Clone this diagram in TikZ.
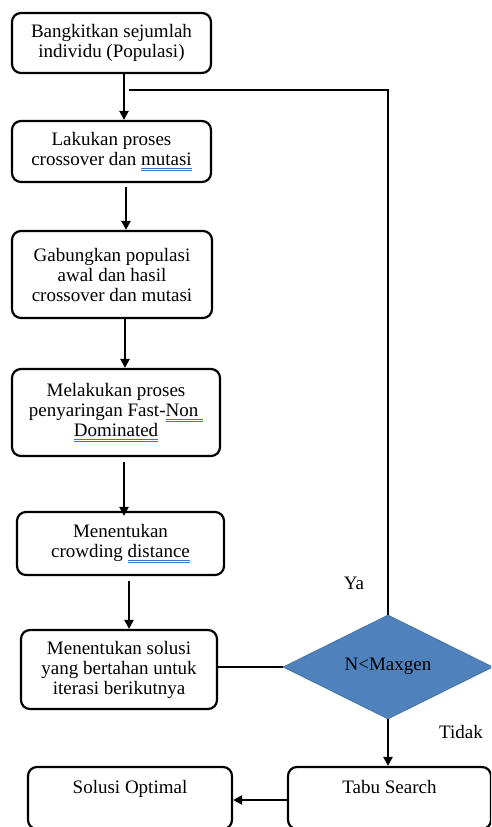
\documentclass[tikz,border=0pt]{standalone}
\usepackage{fontspec}
\setmainfont{Liberation Serif}
\usetikzlibrary{shapes.geometric,arrows.meta}
\definecolor{dblue}{HTML}{4F81BD}
\definecolor{dborder}{HTML}{41719C}
\definecolor{spellblue}{HTML}{4472C4}
\newsavebox\splbox
\newcommand\spl[1]{\sbox\splbox{#1}\rlap{\color{spellblue}\raisebox{-3.2pt}{\rule{\wd\splbox}{0.7pt}}}\rlap{\color{spellblue}\raisebox{-4.8pt}{\rule{\wd\splbox}{0.7pt}}}\usebox\splbox}
\tikzset{
  box/.style={draw, line width=2.2pt, rounded corners=9pt, align=center, inner sep=0pt,
    font=\fontsize{19}{20}\selectfont},
  lbl/.style={font=\fontsize{19}{20}\selectfont, inner sep=0pt},
  arr/.style={line width=2.2pt, -{Triangle[length=9pt,width=9pt]}},
  ln/.style={line width=2.2pt},
  dec/.style={shape=diamond, draw=dborder, line width=0.6pt, fill=dblue, inner sep=0pt,
    minimum width=210pt, minimum height=90pt, font=\fontsize{19}{20}\selectfont}
}
\begin{document}
\begin{tikzpicture}[x=1pt,y=-1pt]
\useasboundingbox (0,0) rectangle (491,827);
\clip (0,0) rectangle (491,827);
\node[box, minimum width=199pt, minimum height=60pt] (b1) at (111.5,43) {Bangkitkan sejumlah\\individu (Populasi)};
\node[box, minimum width=199pt, minimum height=61pt] (b2) at (111.5,151.5) {Lakukan proses\\crossover dan \spl{mutasi}};
\node[box, minimum width=200pt, minimum height=87pt] (b3) at (112,274.5) {Gabungkan populasi\\awal dan hasil\\crossover dan mutasi};
\node[box, minimum width=208pt, minimum height=87pt] (b4) at (116,412.5) {Melakukan proses\\penyaringan Fast-\spl{Non\ }\\\spl{Dominated}};
\node[box, minimum width=207pt, minimum height=63pt] (b5) at (120.5,543.5) {Menentukan\\crowding \spl{distance}};
\node[box, minimum width=196pt, minimum height=79pt] (b6) at (119,669.5) {Menentukan solusi\\yang bertahan untuk\\iterasi berikutnya};
\node[dec] (d) at (388,667) {\raisebox{5pt}{N<Maxgen}};
\node[box, minimum width=203pt, minimum height=62pt] (tabu) at (389.5,798) {Tabu Search\\[2pt]~};
\node[box, minimum width=204pt, minimum height=62pt] (sol) at (130,798) {Solusi Optimal\\[2pt]~};
\node[lbl] (ya) at (354,583) {Ya};
\node[lbl] (tidak) at (461,732) {Tidak};
\coordinate (join) at (129,90);

\draw[arr] ([xshift=12.5pt]b1.south) -- ([xshift=12.5pt]b1.south |- b2.north);
\draw[arr] ([xshift=14.5pt,yshift=-4pt]b2.south) -- ([xshift=14.5pt]b2.south |- b3.north);
\draw[arr] ([xshift=13pt]b3.south) -- ([xshift=13pt]b3.south |- b4.north);
\draw[arr] ([xshift=8pt,yshift=-5pt]b4.south) -- ([xshift=8pt,yshift=-5pt]b4.south |- b5.north);
\draw[arr] ([xshift=8.5pt,yshift=-5pt]b5.south) -- ([xshift=8.5pt]b5.south |- b6.north);
\draw[ln] (d.north) -- (d.north |- join) -- (join);
\draw[ln] (d.west) -- (d.west -| b6.east);
\draw[arr] (d.south) -- (d.south |- tabu.north);
\draw[arr] ([yshift=-2pt]tabu.west) -- ([yshift=-2pt]tabu.west -| sol.east);
\end{tikzpicture}
\end{document}
